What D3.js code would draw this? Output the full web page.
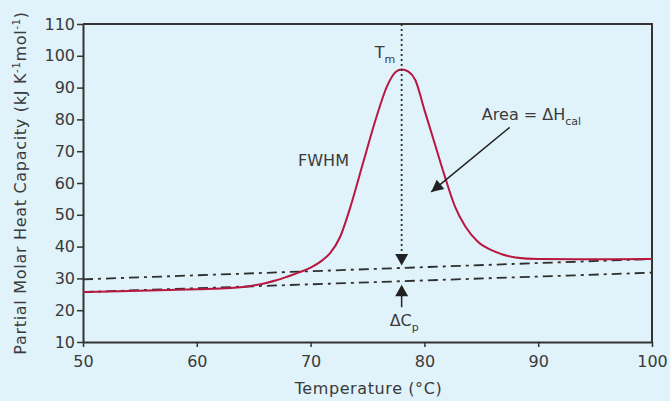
<!DOCTYPE html>
<html>
<head>
<meta charset="utf-8">
<script src="https://cdn.jsdelivr.net/npm/d3@7"></script>
<style>
  html, body { margin: 0; padding: 0; background: #e0f2fa; }
  svg { display: block; font-family: "DejaVu Sans", sans-serif; }
</style>
</head>
<body>
<svg id="chart"></svg>
<script>
// DSC thermogram
const temps = [50, 55, 60, 63, 65, 66, 67, 68, 69, 70, 71, 71.7, 72.6, 73.5, 74.6, 75.8, 76.7, 77.5, 78, 78.6, 79.2, 80, 80.9, 81.8, 82.7, 83.6, 84.7, 86.2, 88, 90, 95, 100];
const cp    = [25.7, 26.1, 26.6, 27.0, 27.8, 28.5, 29.4, 30.6, 31.9, 33.4, 35.6, 37.9, 43.1, 52.5, 66.2, 80.9, 90.3, 95.0, 95.7, 95.0, 92.4, 83.0, 72.5, 62.0, 52.5, 46.3, 41.5, 38.4, 36.6, 36.1, 36.0, 36.1];

const upperBase = [[50, 29.7], [100, 36.1]];
const lowerBase = [[50, 25.7], [100, 31.8]];

const xTicks = [50, 60, 70, 80, 90, 100];
const yTicks = [10, 20, 30, 40, 50, 60, 70, 80, 90, 100, 110];

const tm = 78;

const width = 670, height = 401;
const margin = {top: 24, right: 18, bottom: 59, left: 83};
const iw = width - margin.left - margin.right;
const ih = height - margin.top - margin.bottom;

const ink = "#333";
const txt = "#3a3a3a";

const svg = d3.select("#chart").attr("width", width).attr("height", height);

const defs = svg.append("defs");
defs.append("marker")
    .attr("id", "head")
    .attr("viewBox", "0 0 10 10")
    .attr("refX", 10).attr("refY", 5)
    .attr("markerWidth", 14).attr("markerHeight", 12)
    .attr("markerUnits", "userSpaceOnUse")
    .attr("orient", "auto")
  .append("path")
    .attr("d", "M0,0 L10,5 L0,10 Z")
    .attr("fill", "#222");

const g = svg.append("g").attr("transform", `translate(${margin.left},${margin.top})`);

const x = d3.scaleLinear().domain([50, 100]).range([0, iw]);
const y = d3.scaleLinear().domain([10, 110]).range([ih, 0]);

// frame top and right
g.append("path")
    .attr("d", `M0,0 H${iw} V${ih}`)
    .attr("fill", "none")
    .attr("stroke", ink)
    .attr("stroke-width", 2);

const xAxis = g.append("g")
    .attr("transform", `translate(0,${ih})`)
    .call(d3.axisBottom(x).tickValues(xTicks).tickSize(5).tickPadding(9).tickSizeOuter(0));
const yAxis = g.append("g")
    .call(d3.axisLeft(y).tickValues(yTicks).tickSize(6).tickPadding(2).tickSizeOuter(0));

[xAxis, yAxis].forEach(a => {
    a.select(".domain").attr("stroke", ink).attr("stroke-width", 2);
    a.selectAll(".tick line").attr("stroke", ink).attr("stroke-width", 1.5);
    a.selectAll(".tick text")
        .attr("fill", txt)
        .style("font-family", "'DejaVu Sans', sans-serif")
        .style("font-size", "16px");
});

// baselines (dash-dot)
const line2 = d3.line().x(d => x(d[0])).y(d => y(d[1]));
[upperBase, lowerBase].forEach(b => {
    g.append("path")
        .attr("d", line2(b))
        .attr("fill", "none")
        .attr("stroke", "#2e2e2e")
        .attr("stroke-width", 1.8)
        .attr("stroke-dasharray", "10,5,3,5");
});

// thermogram
const curve = d3.line()
    .x((d, i) => x(temps[i]))
    .y(d => y(d))
    .curve(d3.curveMonotoneX);

g.append("path")
    .attr("d", curve(cp))
    .attr("fill", "none")
    .attr("stroke", "#b8173f")
    .attr("stroke-width", 2);

// Tm dotted drop line with arrow onto upper baseline
const upAt = t => upperBase[0][1] + (upperBase[1][1] - upperBase[0][1]) * (t - 50) / 50;
const loAt = t => lowerBase[0][1] + (lowerBase[1][1] - lowerBase[0][1]) * (t - 50) / 50;

g.append("line")
    .attr("x1", x(tm)).attr("x2", x(tm))
    .attr("y1", 0).attr("y2", y(upAt(tm)) - 12)
    .attr("stroke", "#2e2e2e")
    .attr("stroke-width", 1.8)
    .attr("stroke-dasharray", "2,3");
g.append("path")
    .attr("d", `M${x(tm) - 6.5},${y(upAt(tm)) - 14} L${x(tm) + 6.5},${y(upAt(tm)) - 14} L${x(tm)},${y(upAt(tm)) - 2.5} Z`)
    .attr("fill", "#222");

// delta Cp arrow up to lower baseline
g.append("line")
    .attr("x1", x(tm)).attr("x2", x(tm))
    .attr("y1", y(loAt(tm)) + 14).attr("y2", y(loAt(tm)) + 26)
    .attr("stroke", "#222")
    .attr("stroke-width", 1.5);
g.append("path")
    .attr("d", `M${x(tm) - 6.5},${y(loAt(tm)) + 15} L${x(tm) + 6.5},${y(loAt(tm)) + 15} L${x(tm)},${y(loAt(tm)) + 3.5} Z`)
    .attr("fill", "#222");

// Area arrow
g.append("line")
    .attr("x1", x(87.5)).attr("y1", y(77.5))
    .attr("x2", x(80.6)).attr("y2", y(57.2))
    .attr("stroke", "#222")
    .attr("stroke-width", 1.5)
    .attr("marker-end", "url(#head)");

// labels
const label = (tx, ty, parts, anchor) => {
    const t = g.append("text")
        .attr("x", tx).attr("y", ty)
        .attr("fill", txt)
        .attr("text-anchor", anchor || "start")
        .style("font-size", "16px");
    parts.forEach(p => {
        const s = t.append("tspan").text(p.t);
        if (p.sub) s.attr("dy", p.sub).style("font-size", "11px");
    });
    return t;
};

label(x(tm) - 27, 34, [{t: "T"}, {t: "m", sub: 5}]);
label(x(68.9), 142, [{t: "FWHM"}]);
label(x(85.05), 96, [{t: "Area = ΔH"}, {t: "cal", sub: 5}]);
label(x(tm) - 12, 302, [{t: "ΔC"}, {t: "p", sub: 5}]);

// axis titles
svg.append("text")
    .attr("x", margin.left + iw / 2 + 1)
    .attr("y", 394)
    .attr("text-anchor", "middle")
    .attr("fill", txt)
    .style("font-size", "16px")
    .style("letter-spacing", "0.6px")
    .text("Temperature (°C)");

const yt = svg.append("text")
    .attr("transform", "translate(26,183) rotate(-90)")
    .attr("text-anchor", "middle")
    .attr("fill", txt)
    .style("font-size", "16px")
    .style("letter-spacing", "0.7px");
yt.append("tspan").text("Partial Molar Heat Capacity (kJ K");
yt.append("tspan").text("-1").attr("dy", -6).style("font-size", "10px");
yt.append("tspan").text("mol").attr("dy", 6);
yt.append("tspan").text("-1").attr("dy", -6).style("font-size", "10px");
yt.append("tspan").text(")").attr("dy", 6);
</script>
</body>
</html>
